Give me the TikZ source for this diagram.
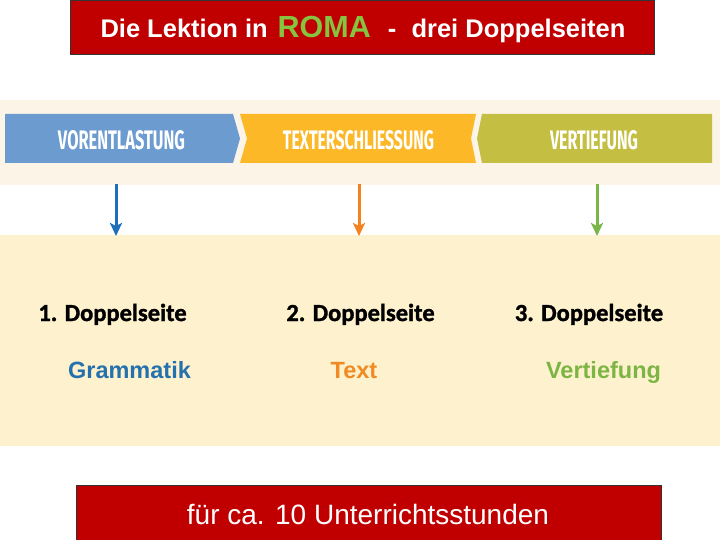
\documentclass[tikz,border=0pt]{standalone}
\usepackage{fontspec}
\setmainfont{Liberation Sans}
\newfontfamily\calfont{Carlito}[BoldFeatures={FakeBold=1.3}]
\newfontfamily\chevfont{Fira Sans}
\usetikzlibrary{arrows.meta}
\definecolor{boxred}{HTML}{C00000}
\definecolor{romagreen}{HTML}{86C440}
\definecolor{creamtop}{HTML}{FCF4E7}
\definecolor{creamlow}{HTML}{FEF1CD}
\definecolor{chevblue}{HTML}{6C9BD0}
\definecolor{chevyellow}{HTML}{FCB827}
\definecolor{chevgreen}{HTML}{C4BF43}
\definecolor{arrblue}{HTML}{1E6FBA}
\definecolor{arrorange}{HTML}{F5821F}
\definecolor{arrgreen}{HTML}{7AB547}
\definecolor{txtblue}{HTML}{2571AE}
\definecolor{txtorange}{HTML}{F08A22}
\definecolor{txtgreen}{HTML}{7DB544}
\tikzset{
  redbox/.style={fill=boxred,draw=black!80,line width=0.8pt},
  chevtext/.style={text=white,inner sep=0pt},
  pagelabel/.style={inner sep=0pt,anchor=base,font=\calfont\bfseries\fontsize{24.5}{28}\selectfont},
  contentlabel/.style={inner sep=0pt,anchor=base,font=\bfseries\fontsize{23.5}{28}\selectfont},
  downarrow/.style={line width=3pt,-{Stealth[length=13pt,width=12pt,inset=3pt]}}
}
\begin{document}
\begin{tikzpicture}[x=1pt,y=-1pt]
\useasboundingbox (0,0) rectangle (720,540);
\fill[white] (0,0) rectangle (720,540);
% background bands
\fill[creamtop] (0,100) rectangle (720,185);
\fill[creamlow] (0,235) rectangle (720,446);
% chevrons
\fill[chevblue] (5,114) -- (233,114) -- (240,138.5) -- (233,163) -- (5,163) -- cycle;
\fill[chevyellow] (240,114) -- (476,114) -- (471,138.5) -- (476,163) -- (240,163) -- (247,138.5) -- cycle;
\fill[chevgreen] (482,114) -- (712,114) -- (712,163) -- (482,163) -- (477,138.5) -- cycle;
\node[chevtext] (vl) at (121.5,140.5) {\resizebox{127pt}{19pt}{\chevfont\bfseries VORENTLASTUNG}};
\node[chevtext] (te) at (358.5,140.5) {\resizebox{151pt}{19pt}{\chevfont\bfseries TEXTERSCHLIESSUNG}};
\node[chevtext] (vt) at (594,140.5) {\resizebox{88pt}{19pt}{\chevfont\bfseries VERTIEFUNG}};
% title box
\draw[redbox] (70,0) rectangle (654,54);
\node[inner sep=0pt,text=white,font=\bfseries\fontsize{25.5}{30}\selectfont] (title) at (363,29)
  {Die Lektion in\hspace{10pt}\textcolor{romagreen}{\fontsize{30.5}{30}\selectfont ROMA}\hspace{10pt} -\hspace{8pt} drei Doppelseiten};
% arrows
\coordinate (a1s) at (116,184);
\coordinate (a1e) at (116,236);
\coordinate (a2s) at (359,184);
\coordinate (a2e) at (359,236);
\coordinate (a3s) at (597,184);
\coordinate (a3e) at (597,236);
\draw[downarrow,arrblue] (a1s) -- (a1e);
\draw[downarrow,arrorange] (a2s) -- (a2e);
\draw[downarrow,arrgreen] (a3s) -- (a3e);
% labels
\node[pagelabel] (d1) at (112.5,321) {1. Doppelseite};
\node[pagelabel] (d2) at (360.5,321) {2. Doppelseite};
\node[pagelabel] (d3) at (589,321) {3. Doppelseite};
\node[contentlabel,text=txtblue] (g) at (129.5,378) {Grammatik};
\node[contentlabel,text=txtorange] (t) at (354,378) {Text};
\node[contentlabel,text=txtgreen] (v) at (603.5,378) {Vertiefung};
% bottom box
\draw[redbox] (76,485) rectangle (661,541);
\node[inner sep=0pt,text=white,font=\fontsize{28}{32}\selectfont] (foot) at (368,514) {für ca. 10 Unterrichtsstunden};
\end{tikzpicture}
\end{document}
